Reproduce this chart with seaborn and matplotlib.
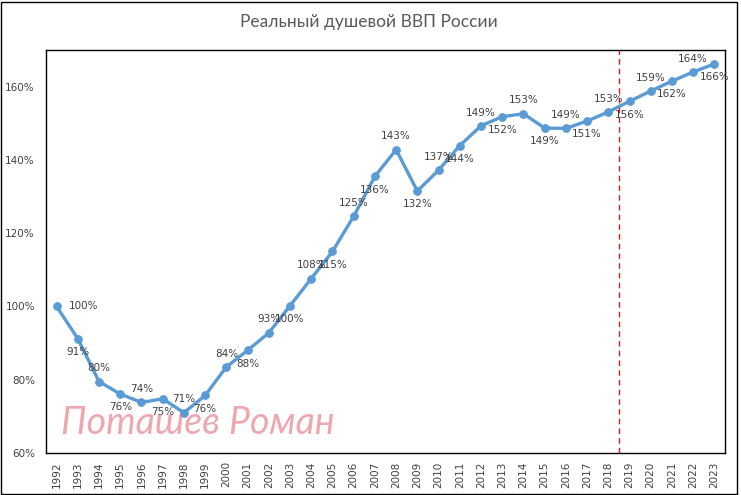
import matplotlib
matplotlib.use("Agg")
import matplotlib.pyplot as plt
import seaborn as sns
import pandas as pd
from matplotlib.patches import Rectangle
from matplotlib.ticker import FuncFormatter

years = list(range(1992, 2024))
values = [100.0, 91.2, 79.5, 76.1, 73.8, 74.8, 71.0, 75.7, 83.5, 88.0, 92.8, 100.2,
          107.6, 115.0, 124.6, 135.5, 142.8, 131.5, 137.2, 143.9, 149.3, 151.8, 152.6,
          148.7, 148.6, 150.6, 153.1, 156.0, 158.8, 161.5, 164.0, 166.2]
title = "Реальный душевой ВВП России"
watermark = "Поташев Роман"
yticks = [60, 80, 100, 120, 140, 160]

df = pd.DataFrame({"year": years, "value": values})

sns.set_style("white")
plt.rcParams['font.family'] = ['DejaVu Sans']

fig = plt.figure(figsize=(7.41, 4.95), dpi=100)
ax = fig.add_axes([46/741, 1-453/495, (725-46)/741, (453-50)/495])

blue = "#5B9BD5"
sns.lineplot(data=df, x="year", y="value", ax=ax, color=blue, linewidth=2.4,
             marker="o", markersize=5.5, markeredgecolor=blue, markerfacecolor=blue)

ax.axvline(2018.5, color="#D62020", linestyle=(0, (4, 3)), linewidth=1.0)

txtc = "#404040"
for i, (yr, v) in enumerate(zip(years, values)):
    lab = f"{round(v):d}%"
    if i == 0:
        ax.annotate(lab, (yr, v), xytext=(9, 0), textcoords="offset points",
                    ha="left", va="center", fontsize=7.5, color=txtc)
    elif i % 2 == 0:
        ax.annotate(lab, (yr, v), xytext=(0, 6), textcoords="offset points",
                    ha="center", va="bottom", fontsize=7.5, color=txtc)
    else:
        ax.annotate(lab, (yr, v), xytext=(0, -6), textcoords="offset points",
                    ha="center", va="top", fontsize=7.5, color=txtc)

ax.set_xlim(1991.5, 2023.5)
ax.set_ylim(60, 170)
ax.set_yticks(yticks)
ax.yaxis.set_major_formatter(FuncFormatter(lambda v, p: f"{v:.0f}%"))
ax.set_xticks(years)
ax.set_xticklabels([str(y) for y in years], rotation=90, fontsize=7.5, color=txtc)
ax.tick_params(axis="y", labelsize=7.5, labelcolor=txtc, length=0, pad=8)
ax.tick_params(axis="x", length=0, pad=6)
ax.set_xlabel("")
ax.set_ylabel("")
for s in ax.spines.values():
    s.set_visible(True)
    s.set_color("black")
    s.set_linewidth(1.0)

ax.text(1992.2, 63.2, watermark, fontsize=27, style="italic", fontweight="normal",
        color="#E0606E", alpha=0.55, family="Lato", ha="left", va="bottom")

fig.text(369/741, 1-22/495, title, ha="center", va="center", fontsize=12.5,
         color="#595959", family="Lato")

fig.patches.append(Rectangle((1/741, 1/495), 736/741, 492/495, transform=fig.transFigure,
                             fill=False, edgecolor="black", linewidth=1.0))

fig.savefig("out.png", dpi=100)
